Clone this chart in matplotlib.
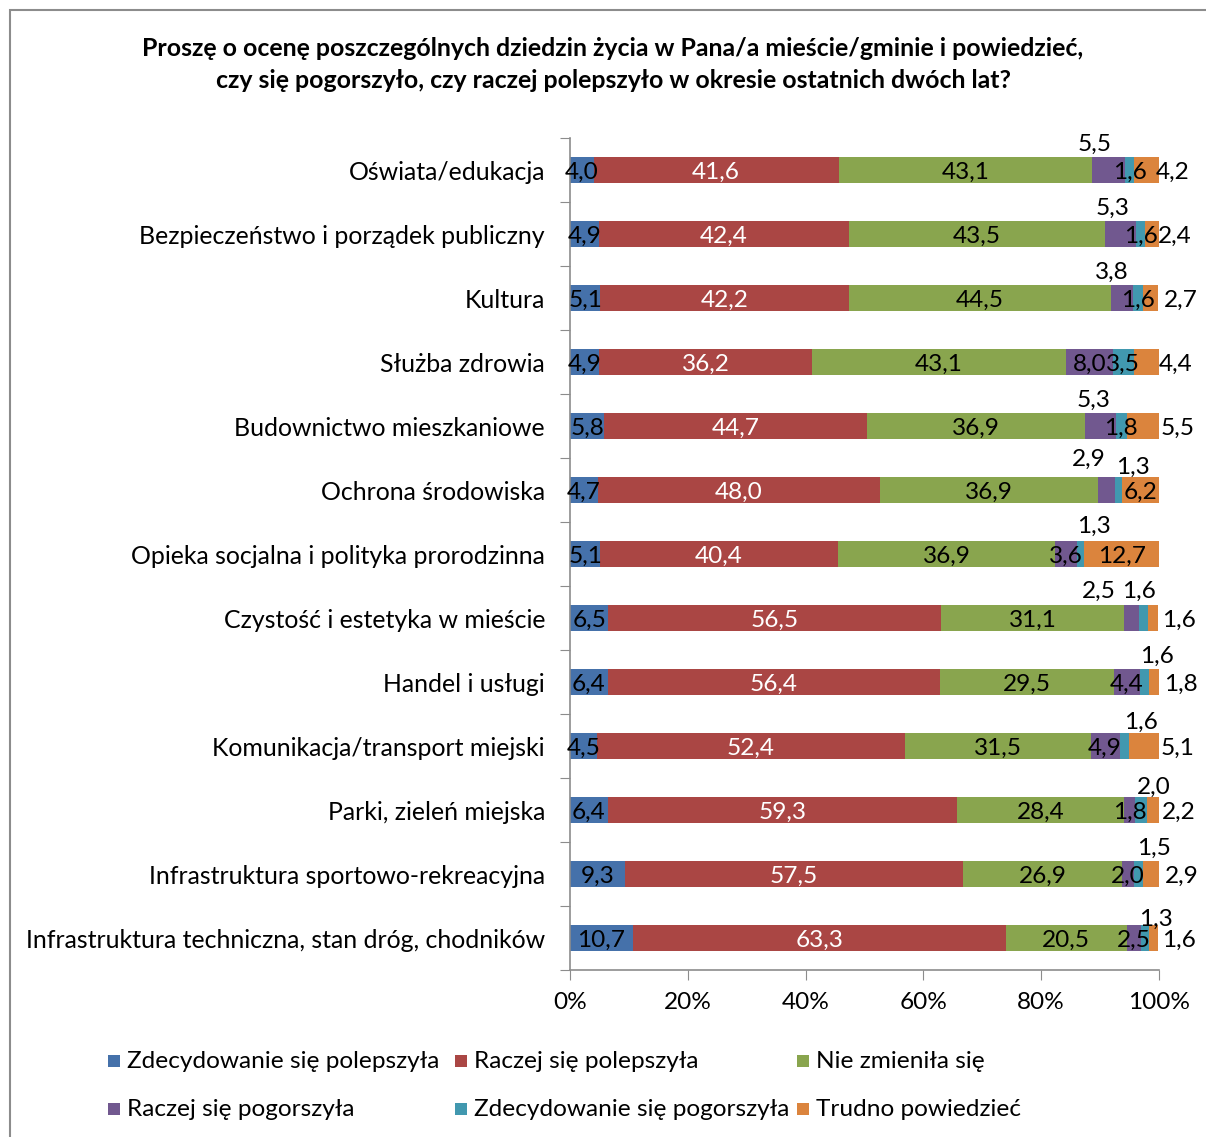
import matplotlib
matplotlib.use("Agg")
import matplotlib.pyplot as plt
from matplotlib.patches import Rectangle
import numpy as np

categories = [
    "Oświata/edukacja",
    "Bezpieczeństwo i porządek publiczny",
    "Kultura",
    "Służba zdrowia",
    "Budownictwo mieszkaniowe",
    "Ochrona środowiska",
    "Opieka socjalna i polityka prorodzinna",
    "Czystość i estetyka w mieście",
    "Handel i usługi",
    "Komunikacja/transport miejski",
    "Parki, zieleń miejska",
    "Infrastruktura sportowo-rekreacyjna",
    "Infrastruktura techniczna, stan dróg, chodników",
]
series_names = [
    "Zdecydowanie się polepszyła",
    "Raczej się polepszyła",
    "Nie zmieniła się",
    "Raczej się pogorszyła",
    "Zdecydowanie się pogorszyła",
    "Trudno powiedzieć",
]
zdec_lepiej = [4.0, 4.9, 5.1, 4.9, 5.8, 4.7, 5.1, 6.5, 6.4, 4.5, 6.4, 9.3, 10.7]
raczej_lepiej = [41.6, 42.4, 42.2, 36.2, 44.7, 48.0, 40.4, 56.5, 56.4, 52.4, 59.3, 57.5, 63.3]
bez_zmian = [43.1, 43.5, 44.5, 43.1, 36.9, 36.9, 36.9, 31.1, 29.5, 31.5, 28.4, 26.9, 20.5]
raczej_gorzej = [5.5, 5.3, 3.8, 8.0, 5.3, 2.9, 3.6, 2.5, 4.4, 4.9, 1.8, 2.0, 2.5]
zdec_gorzej = [1.6, 1.6, 1.6, 3.5, 1.8, 1.3, 1.3, 1.6, 1.6, 1.6, 2.0, 1.5, 1.3]
trudno = [4.2, 2.4, 2.7, 4.4, 5.5, 6.2, 12.7, 1.6, 1.8, 5.1, 2.2, 2.9, 1.6]
x_ticks = [0, 20, 40, 60, 80, 100]

series = [zdec_lepiej, raczej_lepiej, bez_zmian, raczej_gorzej, zdec_gorzej, trudno]
colors = ["#4571AA", "#AA4644", "#89A54E", "#71588F", "#4198AF", "#DB843D"]
text_colors = ["black", "white", "black", "black", "black", "black"]

# label placement offsets in pixels (dx, dy) from segment centre (style, not data)
offsets = {
    (0, 3): (-14, 28), (0, 5): (26, 0),
    (1, 3): (-8, 28), (1, 5): (22, 0),
    (2, 3): (-10, 28), (2, 5): (30, 0),
    (3, 5): (29, 0),
    (4, 3): (-7, 28), (4, 5): (35, 0),
    (5, 3): (-18, 33), (5, 4): (14, 25),
    (6, 4): (14, 30),
    (7, 3): (-33, 29), (7, 4): (-5, 29), (7, 5): (26, 0),
    (8, 4): (13, 28), (8, 5): (27, 0),
    (9, 4): (17, 26), (9, 5): (34, 0),
    (10, 4): (13, 25), (10, 5): (26, 0),
    (11, 4): (16, 28), (11, 5): (31, 0),
    (12, 4): (11, 21), (12, 5): (25, 0),
}

FONT = "Lato"
FS = 17.6
plt.rcParams["font.family"] = [FONT, "DejaVu Sans"]

W, H = 1206, 1137
fig = plt.figure(figsize=(W / 100, H / 100), dpi=100)

# outer frame (cut at right/bottom)
fig.patches.append(Rectangle((10 / W, -0.05), 1.2, 1 - 10 / H + 0.05, transform=fig.transFigure,
                             fill=False, edgecolor="#8C8C8C", linewidth=1.5))

ax = fig.add_axes([570 / W, 1 - 970 / H, 589 / W, 832 / H])
y = np.arange(len(categories))
left = np.zeros(len(categories))
for s, (vals, col, tcol) in enumerate(zip(series, colors, text_colors)):
    vals = np.array(vals)
    ax.barh(y, vals, left=left, height=0.41, color=col, edgecolor="none")
    for i, v in enumerate(vals):
        cx = left[i] + v / 2
        dx, dy = offsets.get((i, s), (0, 0))
        ax.annotate(f"{v:.1f}".replace(".", ","), (cx, y[i]), xytext=(dx, dy - 2),
                    textcoords="offset pixels", ha="center", va="center",
                    fontsize=FS, color=tcol if (dx, dy) == (0, 0) else "black")
    left += vals

ax.set_xlim(0, 100)
ax.set_ylim(len(categories) - 0.5, -0.5)
ax.set_xticks(x_ticks)
ax.set_xticklabels([f"{t}%" for t in x_ticks], fontsize=FS)
ax.set_yticks(np.arange(-0.5, len(categories), 1.0))
ax.set_yticklabels([])
ax.set_yticks(y, minor=True)
ax.set_yticklabels(categories, minor=True, fontsize=17.9)
ax.tick_params(axis="y", which="major", length=7, color="#8C8C8C", direction="out")
ax.tick_params(axis="y", which="minor", length=0, pad=18)
ax.tick_params(axis="x", length=7, color="#8C8C8C", direction="out", pad=9)
for sp in ["top", "right"]:
    ax.spines[sp].set_visible(False)
for sp in ["left", "bottom"]:
    ax.spines[sp].set_color("#8C8C8C")
    ax.spines[sp].set_linewidth(1.2)

fig.text(613 / W, 1 - 48 / H, "Proszę o ocenę poszczególnych dziedzin życia w Pana/a mieście/gminie i powiedzieć,",
         ha="center", va="center", fontsize=17.9, fontweight="bold")
fig.text(613 / W, 1 - 81 / H, "czy się pogorszyło, czy raczej polepszyło w okresie ostatnich dwóch lat?",
         ha="center", va="center", fontsize=17.9, fontweight="bold")

# legend
leg_x = [108, 455, 797]
leg_y = [1061, 1109]
for k, (name, col) in enumerate(zip(series_names, colors)):
    r, c = divmod(k, 3)
    x0 = leg_x[c]
    y0 = leg_y[r]
    fig.patches.append(Rectangle((x0 / W, 1 - (y0 + 6) / H), 12 / W, 12 / H,
                                 transform=fig.transFigure, facecolor=col, edgecolor="none"))
    fig.text((x0 + 19) / W, 1 - (y0 + 1) / H, name, ha="left", va="center", fontsize=FS)

fig.savefig("out.png", dpi=100)
